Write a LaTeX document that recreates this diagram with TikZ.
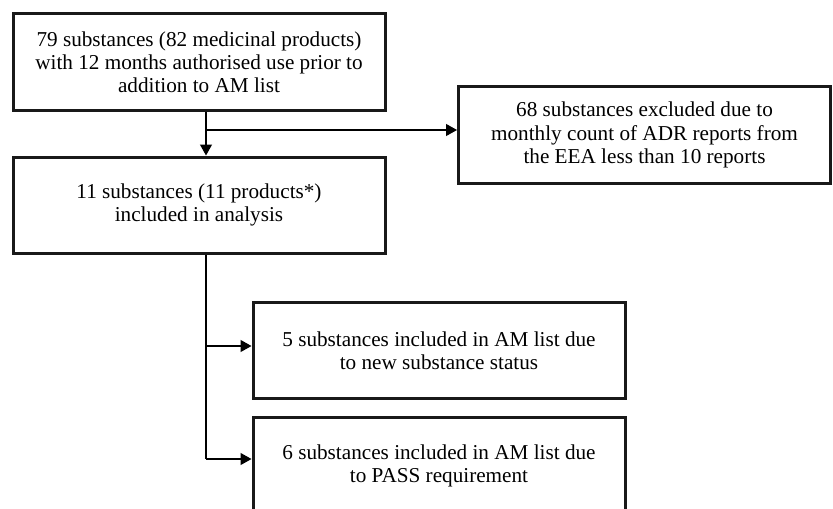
\documentclass[tikz,border=0pt]{standalone}
\usepackage{fontspec}
\setmainfont{Liberation Serif}
\usetikzlibrary{arrows.meta}
\tikzset{box/.style={draw=black!90, line width=1.5pt, minimum width=186pt, minimum height=48pt,
  align=center, inner sep=0pt, font=\fontsize{10.6}{11.6}\selectfont},
 link/.style={draw, line width=0.6pt, -{Triangle[length=5.5pt,width=6pt]}},
 }

\begin{document}
\begin{tikzpicture}[x=0.5pt,y=-0.5pt]
        \useasboundingbox (0,0) rectangle (833,508);
        \clip (0,0) rectangle (833,508);
        \node[box] (start) at (199, 62) {79 substances (82 medicinal products)\\with 12 months authorised use prior to\\addition to AM list};
        \node[box] (excl) at (644.5, 135) {68 substances excluded due to\\monthly count of ADR reports from\\the EEA less than 10 reports};
        \node[box] (incl) at (199, 205) {11 substances (11 products*)\\included in analysis};
        \node[box] (newsub) at (439, 350.5) {5 substances included in AM list due\\to new substance status};
        \node[box] (pass) at (439, 465.5) {6 substances included in AM list due\\to PASS requirement};
        
        \coordinate (split) at (206, 130);
        \coordinate (turn) at (206, 459);
        \draw[link] (start.south -| split) -- (incl.north -| split);
        \draw[link] (split) -- (split -| excl.west);
        \draw[line width=0.6pt] (incl.south -| turn) -- (turn);
        \draw[link] (turn) -- (turn -| pass.west);
        \draw[link] (206, 346) -- (newsub.west |- 0, 346);
    \end{tikzpicture}
\end{document}
